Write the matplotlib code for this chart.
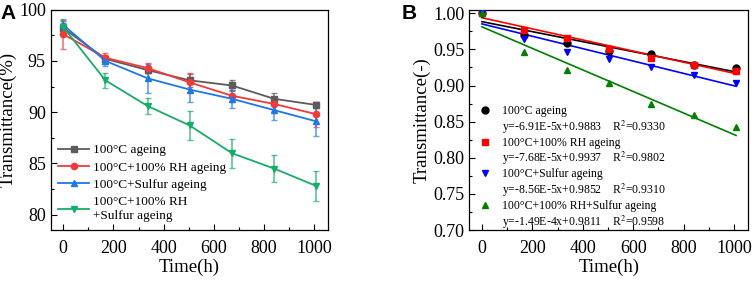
import matplotlib
matplotlib.use("Agg")
import matplotlib.pyplot as plt
from matplotlib.lines import Line2D
from matplotlib.ticker import MultipleLocator
import numpy as np

plt.rcParams["font.family"] = ["Liberation Serif", "DejaVu Serif"]
plt.rcParams["mathtext.fontset"] = "stix"

# ── data ──────────────────────────────────────────────────────────────────────
hours = [0, 168, 336, 504, 672, 840, 1008]

labels_a = ["100°C ageing", "100°C+100% RH ageing", "100°C+Sulfur ageing",
            "100°C+100% RH\n+Sulfur ageing"]
t_heat = [98.2, 95.2, 94.1, 93.1, 92.6, 91.3, 90.7]
t_heat_rh = [97.6, 95.3, 94.3, 92.9, 91.6, 90.8, 89.8]
t_heat_s = [98.5, 95.0, 93.3, 92.2, 91.3, 90.2, 89.1]
t_heat_rh_s = [98.3, 93.1, 90.6, 88.7, 86.0, 84.5, 82.8]
err_heat = [0.5, 0.4, 0.3, 0.6, 0.5, 0.6, 0.3]
err_heat_rh = [1.4, 0.5, 0.5, 0.9, 0.6, 0.7, 1.2]
err_heat_s = [0.4, 0.5, 1.4, 1.2, 0.9, 1.0, 1.4]
err_heat_rh_s = [0.8, 0.7, 0.8, 1.4, 1.4, 1.3, 1.5]

labels_b = ["100°C ageing", "100°C+100% RH ageing", "100°C+Sulfur ageing",
            "100°C+100% RH+Sulfur ageing"]
n_heat = [1.000, 0.970, 0.959, 0.948, 0.943, 0.929, 0.924]
n_heat_rh = [1.000, 0.977, 0.966, 0.951, 0.938, 0.929, 0.920]
n_heat_s = [1.000, 0.964, 0.947, 0.936, 0.926, 0.915, 0.904]
n_heat_rh_s = [1.000, 0.947, 0.921, 0.903, 0.875, 0.859, 0.842]
fit_slope = [-6.91e-5, -7.68e-5, -8.56e-5, -1.49e-4]
fit_icpt = [0.9883, 0.9937, 0.9852, 0.9811]
fit_text = ["y=-6.91E-5x+0.9883    R$^2$=0.9330",
            "y=-7.68E-5x+0.9937    R$^2$=0.9802",
            "y=-8.56E-5x+0.9852    R$^2$=0.9310",
            "y=-1.49E-4x+0.9811    R$^2$=0.9598"]

# ── styles ────────────────────────────────────────────────────────────────────
COLORS_A = ["#5c5c5c", "#f23a3a", "#1f78e8", "#19ac68"]
MARKERS_A = ["s", "o", "^", "v"]
COLORS_B = ["#000000", "#ff0000", "#0000ff", "#008000"]
MARKERS_B = ["o", "s", "v", "^"]


def style_ax(ax):
    ax.tick_params(which="both", direction="in", labelsize=13, width=0.8)
    ax.tick_params(which="major", length=4)
    ax.tick_params(which="minor", length=2)
    ax.tick_params(axis="x", which="major", pad=7)
    for sp in ax.spines.values():
        sp.set_linewidth(0.9)
    ax.set_xlim(-50, 1055)
    ax.xaxis.set_major_locator(MultipleLocator(200))
    ax.xaxis.set_minor_locator(MultipleLocator(100))
    ax.set_xlabel("Time(h)", fontsize=13.5, labelpad=1)


fig = plt.figure(figsize=(7.54, 2.82), dpi=100)
ax_a = fig.add_axes([0.0672, 0.184, 0.368, 0.782])
ax_b = fig.add_axes([0.6225, 0.184, 0.3695, 0.782])

# ── panel A ───────────────────────────────────────────────────────────────────
series_a = [t_heat, t_heat_rh, t_heat_s, t_heat_rh_s]
errs_a = [err_heat, err_heat_rh, err_heat_s, err_heat_rh_s]
handles_a = []
for vals, errs, c, m, lab in zip(series_a, errs_a, COLORS_A, MARKERS_A, labels_a):
    ax_a.errorbar(hours, vals, yerr=errs, fmt="none", ecolor=c, alpha=0.7,
                  elinewidth=1.2, capsize=2.5, capthick=1.0, zorder=2)
    ax_a.plot(hours, vals, color=c, marker=m, markersize=4.5, linewidth=1.3, zorder=3)
    handles_a.append(Line2D([], [], color=c, marker=m, markersize=4.5,
                            linewidth=1.3, label=lab))

style_ax(ax_a)
ax_a.set_ylim(78.5, 100)
ax_a.yaxis.set_major_locator(MultipleLocator(5))
ax_a.yaxis.set_minor_locator(MultipleLocator(2.5))
ax_a.set_ylabel("Transmittance(%)", fontsize=13.5, labelpad=2)
ax_a.legend(handles=handles_a, loc="upper left", bbox_to_anchor=(0.028, 0.39),
            frameon=False, fontsize=9.5, borderpad=0, borderaxespad=0,
            handlelength=2.3, handletextpad=0.35, labelspacing=0.38)

# ── panel B ───────────────────────────────────────────────────────────────────
series_b = [n_heat, n_heat_rh, n_heat_s, n_heat_rh_s]
xfit = np.array([hours[0], hours[-1]])
handles_b = []
for vals, a, b, c, m, lab, eq in zip(series_b, fit_slope, fit_icpt, COLORS_B,
                                     MARKERS_B, labels_b, fit_text):
    ax_b.plot(xfit, a * xfit + b, color=c, linewidth=1.2, zorder=2)
    ax_b.plot(hours, vals, linestyle="none", color=c, marker=m, markersize=5, zorder=3)
    handles_b.append(Line2D([], [], linestyle="none", color=c, marker=m,
                            markersize=5, label=lab))
    handles_b.append(Line2D([], [], linestyle="none", label=eq))

style_ax(ax_b)
ax_b.set_ylim(0.70, 1.005)
ax_b.yaxis.set_major_locator(MultipleLocator(0.05))
ax_b.yaxis.set_minor_locator(MultipleLocator(0.025))
ax_b.yaxis.set_major_formatter(matplotlib.ticker.FormatStrFormatter("%.2f"))
ax_b.set_ylabel("Transmittance(-)", fontsize=13.5, labelpad=2)
ax_b.legend(handles=handles_b, loc="upper left", bbox_to_anchor=(0.035, 0.567),
            frameon=False, fontsize=8.5, borderpad=0, borderaxespad=0,
            handlelength=1.0, handletextpad=0.9, labelspacing=0.1)

# panel letters
fig.text(0.001, 0.985, "A", fontsize=15, fontweight="bold",
         family=["Liberation Sans", "DejaVu Sans"], va="top", ha="left")
fig.text(0.532, 0.985, "B", fontsize=15, fontweight="bold",
         family=["Liberation Sans", "DejaVu Sans"], va="top", ha="left")

fig.savefig("out.png", dpi=100)
